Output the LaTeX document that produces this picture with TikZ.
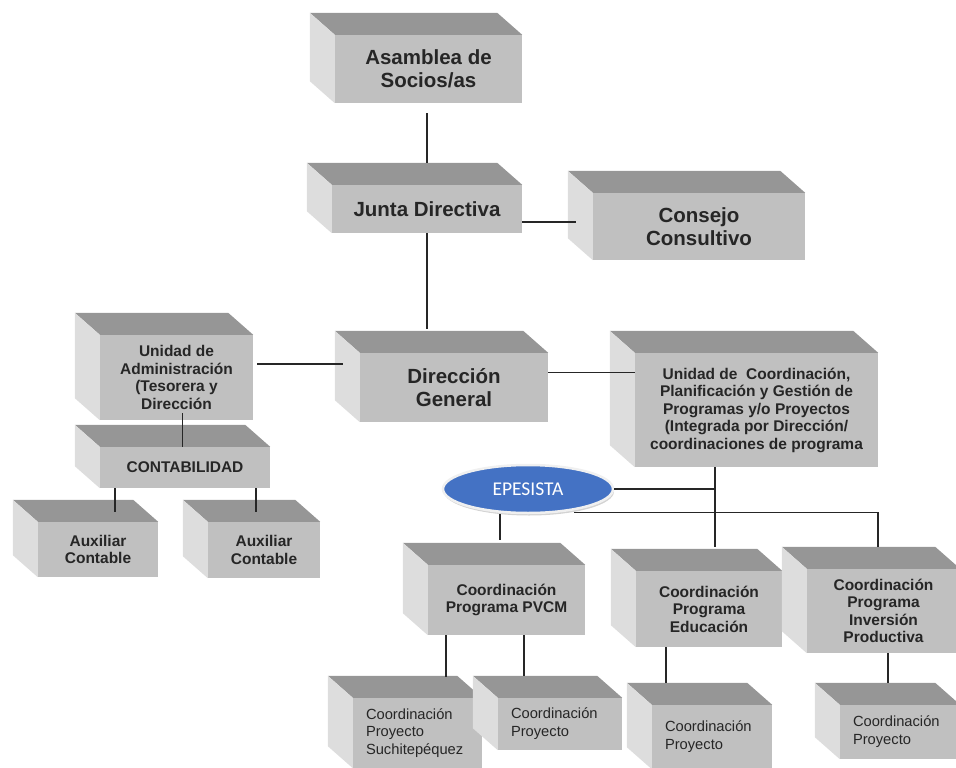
\documentclass[tikz,border=0pt]{standalone}
\usepackage{fontspec}
\setmainfont{Liberation Sans}
\newfontfamily\calibri{Carlito}
\usetikzlibrary{shapes.geometric}
\usetikzlibrary{shadows}
\definecolor{frente}{RGB}{192,192,192}
\definecolor{tapa}{RGB}{150,150,150}
\definecolor{lado}{RGB}{221,221,221}
\definecolor{azul}{RGB}{68,114,196}
\tikzset{
  caja/.style={fill=frente,inner sep=2pt,align=center,text=black!85},
  grande/.style={caja,font=\fontsize{20.5}{23}\selectfont\bfseries},
  media/.style={caja,font=\fontsize{15.5}{17.5}\selectfont\bfseries},
  chica/.style={caja,font=\fontsize{14.7}{17.8}\selectfont,align=left,inner xsep=13pt},
  linea/.style={line width=1.3pt,black!85}
}
\begin{document}
\begin{tikzpicture}[x=1pt,y=-1pt]
\clip (0,0) rectangle (956,768);
\node (asamblea) [grande,minimum width=187pt,minimum height=68pt] at (428.5,69) {Asamblea de\\Socios/as};
\node (junta) [grande,minimum width=190pt,minimum height=48pt] at (427,209) {Junta Directiva};
\node (consejo) [grande,minimum width=212pt,minimum height=67pt] at (699,226.5) {Consejo\\Consultivo};
\node (direccion) [grande,minimum width=188pt,minimum height=69pt] at (454,387.5) {Dirección\\General};
\node (admin) [media,minimum width=153pt,minimum height=85pt] at (176.5,377.5) {Unidad de\\Administración\\(Tesorera y\\Dirección};
\node (contab) [media,minimum width=170pt,minimum height=41pt] at (185,467.5) {CONTABILIDAD};
\node (aux1) [media,minimum width=120pt,minimum height=55pt] at (98,549.5) {Auxiliar\\Contable};
\node (aux2) [media,minimum width=112pt,minimum height=56pt] at (264,550) {Auxiliar\\Contable};
\node (unidad) [media,minimum width=243pt,minimum height=114pt] at (756.5,410) {Unidad de~ Coordinación,\\Planificación y Gestión de\\Programas y/o Proyectos\\(Integrada por Dirección/\\coordinaciones de programa};
\node (pvcm) [media,minimum width=157pt,minimum height=70pt] at (506.5,600) {Coordinación\\Programa PVCM};
\node (educ) [media,minimum width=146pt,minimum height=76pt] at (709,609) {Coordinación\\Programa\\Educación};
\node (inversion) [media,minimum width=153pt,minimum height=84pt] at (883.5,611) {Coordinación\\Programa\\Inversión\\Productiva};
\node (suchi) [chica,text width=103pt,minimum height=70pt] at (417.5,733) {Coordinación\\Proyecto\\Suchitepéquez};
\node (proy1) [chica,text width=98pt,minimum height=52pt] at (560,724) {Coordinación\\Proyecto};
\node (proy2) [chica,text width=94pt,minimum height=64pt] at (712,737) {Coordinación\\Proyecto};
\node (proy3) [chica,text width=94pt,minimum height=54pt] at (900,732) {Coordinación\\Proyecto};
\foreach \n in {asamblea,junta,consejo,direccion,admin,contab,aux1,aux2,unidad,pvcm,educ,inversion,suchi,proy1,proy2,proy3}{
  \fill[tapa] (\n.north west) -- ++(-25,-22) -- ([shift={(-25,-22)}]\n.north east) -- (\n.north east) -- cycle;
  \fill[lado] (\n.north west) -- ++(-25,-22) -- ([shift={(-25,-22)}]\n.south west) -- (\n.south west) -- cycle;
}
\node (epesista) [ellipse,fill=azul,draw=gray!12,line width=2.5pt,minimum width=170pt,minimum height=48pt,inner sep=0pt,
  drop shadow={shadow xshift=1pt,shadow yshift=-2.5pt,opacity=0.35},text=white,font=\fontsize{19.5}{22}\selectfont\calibri] at (528,489) {EPESISTA};
\coordinate (asabaja) at ([yshift=-10pt]asamblea.south);
\coordinate (juntaback) at ([yshift=22pt]junta.north);
\coordinate (dirback) at ([yshift=24pt]direccion.north);
\coordinate (dirder) at ([yshift=15pt]direccion.east);
\coordinate (admbaja) at ([xshift=6pt,yshift=7pt]admin.south);
\coordinate (aux1back) at ([xshift=17pt,yshift=10pt]aux1.north);
\coordinate (aux2back) at ([xshift=-8pt,yshift=10pt]aux2.north);
\coordinate (educback) at ([xshift=6pt,yshift=24pt]educ.north);
\coordinate (pvcmback) at ([xshift=-6.5pt,yshift=25pt]pvcm.north);
\coordinate (suchiback) at ([xshift=28.5pt,yshift=21pt]suchi.north);
\coordinate (proy1back) at ([xshift=-36pt,yshift=22pt]proy1.north);
\coordinate (proy2back) at ([xshift=-46pt,yshift=22pt]proy2.north);
\coordinate (proy3back) at ([xshift=-12pt,yshift=22pt]proy3.north);
\draw [linea] (juntaback |- asabaja) -- (juntaback);
\draw [linea] ([yshift=-13pt]junta.east) -- ([xshift=-17pt,yshift=4.5pt]consejo.west);
\draw [linea] (junta.south) -- (junta.south |- dirback);
\draw [linea] ([xshift=4pt,yshift=13.5pt]admin.east) -- ([xshift=-17pt,yshift=23.5pt]direccion.west);
\draw [linea] (dirder) -- (dirder -| unidad.west);
\draw [linea] (admbaja) -- (admbaja |- contab.north);
\draw [linea] (aux1back) -- (aux1back |- contab.south);
\draw [linea] (aux2back) -- (aux2back |- contab.south);
\draw [linea] (educback) -- (educback |- unidad.south);
\draw [linea] (epesista.east) -- (epesista.east -| educback);
\draw [linea] ([yshift=-2pt]epesista.-25) -| ([xshift=-5.5pt,yshift=22pt]inversion.north);
\draw [linea] (pvcmback) -- (pvcmback |- epesista.south);
\draw [linea] (suchiback) -- (suchiback |- pvcm.south);
\draw [linea] (proy1back) -- (proy1back |- pvcm.south);
\draw [linea] (proy2back) -- (proy2back |- educ.south);
\draw [linea] (proy3back) -- (proy3back |- inversion.south);
\end{tikzpicture}
\end{document}
